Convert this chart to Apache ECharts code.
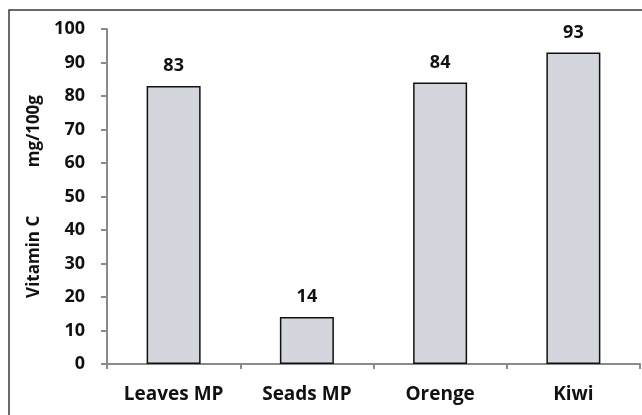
<!DOCTYPE html>
<html><head><meta charset="utf-8">
<script src="https://cdn.jsdelivr.net/npm/echarts@6/dist/echarts.min.js"></script>
<style>html,body{margin:0;padding:0;background:#fff}#c{width:642px;height:415px}</style>
</head><body><div id="c"></div>
<script>
const categories = ['Leaves MP', 'Seads MP', 'Orenge', 'Kiwi'];
const values = [83, 14, 84, 93];
const yTicks = { min: 0, max: 100, interval: 10 };
const yName = 'Vitamin C           mg/100g';

const chart = echarts.init(document.getElementById('c'));
const font = '"Open Sans", sans-serif';
chart.setOption({
  animation: false,
  backgroundColor: '#fff',
  grid: { left: 107, right: 2, top: 29, bottom: 51 },
  graphic: [
    { type: 'polyline', shape: { points: [[9, 420], [9, 10], [650, 10]] },
      style: { stroke: '#3a3a3a', lineWidth: 1.5, fill: null } }
  ],
  xAxis: {
    type: 'category', data: categories,
    axisLine: { lineStyle: { color: '#8a8a8a', width: 2 } },
    axisTick: { show: true, length: 5, lineStyle: { color: '#8a8a8a', width: 2 } },
    axisLabel: { color: '#111', fontFamily: font, fontWeight: 'bold', fontSize: 19, margin: 21 }
  },
  yAxis: {
    type: 'value', min: yTicks.min, max: yTicks.max, interval: yTicks.interval,
    name: yName, nameLocation: 'middle', nameGap: 64, nameRotate: 90,
    nameTextStyle: { color: '#111', fontFamily: font, fontWeight: 'bold', fontSize: 17 },
    axisLine: { show: true, lineStyle: { color: '#8a8a8a', width: 2 } },
    axisTick: { show: true, length: 6, lineStyle: { color: '#8a8a8a', width: 2 } },
    splitLine: { show: false },
    axisLabel: { color: '#111', fontFamily: font, fontWeight: 'bold', fontSize: 18, margin: 22 }
  },
  series: [{
    type: 'bar', data: values, barWidth: 54,
    itemStyle: { color: '#d3d6dc', borderColor: '#111', borderWidth: 1.5 },
    label: { show: true, position: 'top', distance: 11, color: '#111',
      fontFamily: font, fontWeight: 'bold', fontSize: 18 }
  }]
});
</script></body></html>
